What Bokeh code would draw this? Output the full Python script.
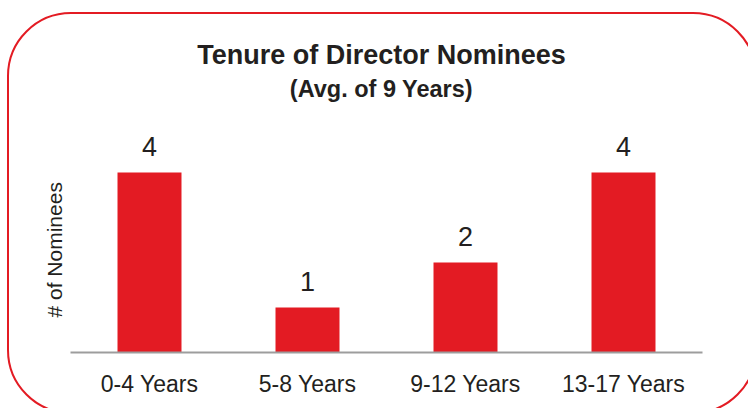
from bokeh.plotting import figure
from bokeh.models import ColumnDataSource, LabelSet, Label, Range1d, Title, InlineStyleSheet
from bokeh.core.properties import value
from bokeh.embed import file_html
from bokeh.resources import INLINE

categories = ["0-4 Years", "5-8 Years", "9-12 Years", "13-17 Years"]
nominees = [4, 1, 2, 4]
value_labels = ["4", "1", "2", "4"]
title_text = "Tenure of Director Nominees"
subtitle_text = "(Avg. of 9 Years)"
y_label = "# of Nominees"

RED = "#e31b23"
TEXT = "#231f20"
FONT = "Liberation Sans"

frame_css = InlineStyleSheet(css="""
:host { position: relative; overflow: hidden; }
:host::after {
  content: ""; position: absolute; left: 7px; top: 12px; width: 750px; height: 402px;
  box-sizing: border-box; border: 2px solid #e31b23; border-radius: 64px;
  pointer-events: none;
}
""")

src = ColumnDataSource(dict(cat=categories, val=nominees, lab=value_labels))

p = figure(width=748, height=408, x_range=categories, y_range=Range1d(0, 7.822),
           output_backend="svg", toolbar_location=None, y_axis_location=None,
           min_border_left=70, min_border_right=46, min_border_top=0, min_border_bottom=56,
           stylesheets=[frame_css])
p.outline_line_color = None
p.background_fill_color = "white"
p.border_fill_color = "white"
p.xgrid.grid_line_color = None
p.ygrid.grid_line_color = None

p.vbar(x="cat", top="val", width=0.405, source=src, fill_color=RED, line_color=None)

p.add_layout(LabelSet(x="cat", y="val", text="lab", source=src, y_offset=16,
                      text_align="center", text_baseline="alphabetic",
                      text_font=value(FONT), text_font_size="27px", text_color=TEXT))

p.xaxis.axis_line_color = "#9d9d9d"
p.xaxis.axis_line_width = 2
p.xaxis.major_tick_line_color = None
p.xaxis.minor_tick_line_color = None
p.xaxis.major_label_text_font = FONT
p.xaxis.major_label_text_font_size = "23px"
p.xaxis.major_label_text_color = TEXT
p.xaxis.major_label_standoff = 12

p.add_layout(Title(text=y_label, align="left", offset=35, standoff=9,
                   text_font=FONT, text_font_style="normal", text_font_size="21px",
                   text_color=TEXT), "left")

p.add_layout(Label(x=1.968, y=6.62, text=title_text,
                   text_align="center", text_baseline="alphabetic", text_font=FONT,
                   text_font_style="bold", text_font_size="27px", text_color=TEXT))
p.add_layout(Label(x=1.968, y=5.866, text=subtitle_text,
                   text_align="center", text_baseline="alphabetic", text_font=FONT,
                   text_font_style="bold", text_font_size="23.5px", text_color=TEXT))

open("out.html", "w").write(file_html(p, INLINE))
